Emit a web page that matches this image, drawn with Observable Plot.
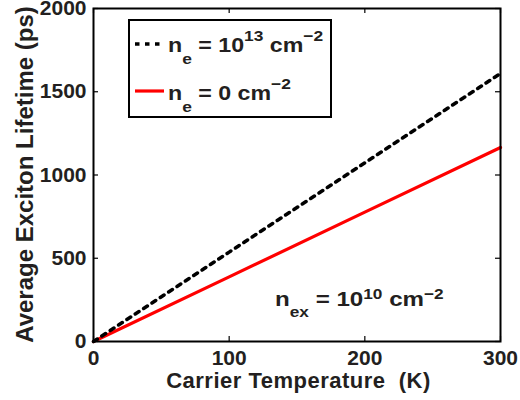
<!DOCTYPE html>
<html>
<head>
<meta charset="utf-8">
<script src="https://cdn.jsdelivr.net/npm/d3@7"></script>
<script src="https://cdn.jsdelivr.net/npm/@observablehq/plot@0.6"></script>
<style>
  html, body { margin: 0; padding: 0; background: #fff; }
  #chart svg { display: block; }
</style>
</head>
<body>
<div id="chart"></div>
<script>
// Data
const temperatures = [0, 100, 200, 300];               // K
const lifetimeDoped = [0, 537, 1073, 1610];            // ps, n_e = 10^13 cm^-2 (dotted black)
const lifetimeUndoped = [0, 388, 777, 1165];           // ps, n_e = 0 cm^-2 (solid red)
const xTicks = [0, 100, 200, 300];
const yTicks = [0, 500, 1000, 1500, 2000];

const doped = temperatures.map((t, i) => ({t, v: lifetimeDoped[i]}));
const undoped = temperatures.map((t, i) => ({t, v: lifetimeUndoped[i]}));

const W = 520, H = 400;
const mL = 93, mR = 20, mT = 8, mB = 59;
const plotW = W - mL - mR, plotH = H - mT - mB;
const tickLen = 5;
const ink = "#231f20";
const font = "'Liberation Sans', Arial, sans-serif";

const chart = Plot.plot({
  width: W, height: H,
  marginLeft: mL, marginRight: mR, marginTop: mT, marginBottom: mB,
  style: {fontFamily: font, fontSize: "21px", fontWeight: "bold", color: ink, background: "#fff"},
  x: {domain: [0, 300], label: null},
  y: {domain: [0, 2000], label: null},
  marks: [
    Plot.line(undoped, {x: "t", y: "v", stroke: "#ff0000", strokeWidth: 3.2}),
    Plot.line(doped, {x: "t", y: "v", stroke: "#000", strokeWidth: 3.5, strokeDasharray: "4.5,5.5"}),
    // inward ticks on all four sides
    Plot.tickX(xTicks, {x: d => d, stroke: "#000", strokeWidth: 1.2, insetTop: plotH - tickLen}),
    Plot.tickX(xTicks, {x: d => d, stroke: "#000", strokeWidth: 1.2, insetBottom: plotH - tickLen}),
    Plot.tickY(yTicks, {y: d => d, stroke: "#000", strokeWidth: 1.2, insetRight: plotW - tickLen}),
    Plot.tickY(yTicks, {y: d => d, stroke: "#000", strokeWidth: 1.2, insetLeft: plotW - tickLen}),
    Plot.axisX({ticks: xTicks, tickFormat: d => String(d), tickSize: 0, tickPadding: 9, label: null, fill: ink, fontSize: 21, fontWeight: "bold"}),
    Plot.axisY({ticks: yTicks, tickFormat: d => String(d), tickSize: 0, tickPadding: 7, label: null, fill: ink, fontSize: 21, fontWeight: "bold"}),
    Plot.frame({stroke: "#000", strokeWidth: 2})
  ]
});
document.getElementById("chart").appendChild(chart);

const svg = d3.select(chart);

// axis titles
svg.append("text")
  .attr("x", mL + plotW / 2 + 2).attr("y", 388)
  .attr("text-anchor", "middle")
  .style("white-space", "pre").style("letter-spacing", "0.5px")
  .attr("font-family", font).attr("font-size", 22).attr("font-weight", "bold").attr("fill", ink)
  .text("Carrier Temperature  (K)");

svg.append("text")
  .attr("transform", `translate(33,${mT + plotH / 2}) rotate(-90)`)
  .attr("text-anchor", "middle")
  .attr("font-family", font).attr("font-size", 24).attr("font-weight", "bold").attr("fill", ink)
  .text("Average Exciton Lifetime (ps)");

// rich text helper: parts = [[text, kind]] kind: "n" normal, "sub", "sup"
function richText(x, y, sx, parts, size, subShift, supShift, subSize) {
  const t = svg.append("text")
    .attr("transform", `translate(${x},${y}) scale(${sx},1)`)
    .attr("text-anchor", "start")
    .style("white-space", "pre")
    .attr("font-family", font).attr("font-size", size).attr("font-weight", "bold").attr("fill", ink);
  let cur = 0;
  for (const [s, kind] of parts) {
    const target = kind === "sub" ? subShift : kind === "sup" ? -supShift : 0;
    const sp = t.append("tspan").attr("dy", target - cur).text(s);
    if (kind !== "n") sp.attr("font-size", subSize);
    cur = target;
  }
  return t;
}

// legend
svg.append("rect")
  .attr("x", 129).attr("y", 20).attr("width", 202).attr("height", 97)
  .attr("fill", "#fff").attr("stroke", "#000").attr("stroke-width", 2);

svg.append("line")
  .attr("x1", 135).attr("x2", 165).attr("y1", 44).attr("y2", 44)
  .attr("stroke", "#000").attr("stroke-width", 3.5).attr("stroke-dasharray", "4.5,5.5");
svg.append("line")
  .attr("x1", 135).attr("x2", 164).attr("y1", 91).attr("y2", 91)
  .attr("stroke", "#ff0000").attr("stroke-width", 3.2);

richText(168, 52, 1.16, [["n", "n"], ["e", "sub"], [" = 10", "n"], ["13", "sup"], [" cm", "n"], ["\u22122", "sup"]], 20, 12, 11, 15);
richText(168, 100, 1.16, [["n", "n"], ["e", "sub"], [" = 0 cm", "n"], ["\u22122", "sup"]], 20, 12, 11, 15);

// annotation
richText(275, 306, 1.15, [["n", "n"], ["ex", "sub"], [" = 10", "n"], ["10", "sup"], [" cm", "n"], ["\u22122", "sup"]], 21, 10.5, 7.5, 15);
</script>
</body>
</html>
